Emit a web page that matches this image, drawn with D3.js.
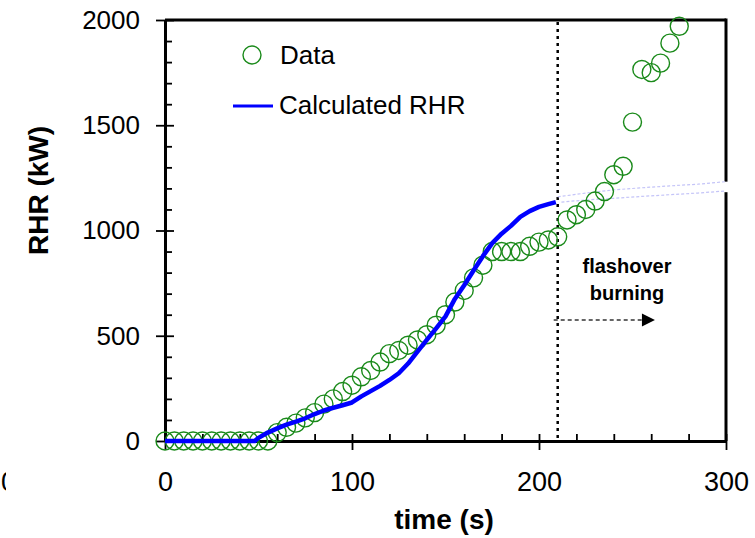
<!DOCTYPE html>
<html>
<head>
<meta charset="utf-8">
<script src="https://cdn.jsdelivr.net/npm/d3@7"></script>
<style>
  html, body { margin: 0; padding: 0; background: #fff; }
  svg { display: block; font-family: "Liberation Sans", Arial, sans-serif; }
</style>
</head>
<body>
<svg id="chart" width="755" height="538"></svg>
<script>
// ---------- data ----------
const dataTime = [0,5,10,15,20,25,30,35,40,45,50,55,60,65,70,75,80,85,90,95,100,105,110,115,120,125,130,135,140,145,150,155,160,165,170,175,180,185,190,195,200,205,210,215,220,225,230,235,240,245,250,255,260,265,270,275];
const dataRHR  = [0,0,0,0,0,0,0,0,0,0,0,0,40,65,85,110,135,175,200,235,265,305,335,375,415,430,455,480,505,550,600,660,715,775,835,900,900,900,900,925,945,955,970,1050,1075,1100,1140,1185,1265,1305,1515,1765,1750,1795,1890,1970];

const calcTime = [0,5,10,15,20,25,30,35,40,45,48,50,55,60,65,70,75,80,85,90,95,100,105,110,115,120,125,130,135,140,145,150,155,160,165,170,175,180,185,190,195,200,205,209];
const calcRHR  = [0,0,0,0,0,0,0,0,0,0,0,15,40,60,78,92,108,128,145,158,170,183,212,237,262,290,322,368,425,480,535,592,675,740,810,878,940,985,1022,1065,1092,1112,1125,1135];

const faintTimeUpper = [210,225,240,255,270,285,300];
const faintRHRUpper  = [1160,1178,1193,1203,1212,1220,1232];
const faintTimeLower = [212,225,240,255,270,285,300];
const faintRHRLower  = [1135,1145,1153,1162,1170,1178,1188];

const xTicks = [0,100,200,300];
const xMinorTicks = [20,40,60,80,120,140,160,180,220,240,260,280];
const yTicks = [0,500,1000,1500,2000];
const yMinorTicks = [100,200,300,400,600,700,800,900,1100,1200,1300,1400,1600,1700,1800,1900];

const flashoverTime = 210;
const arrowEndTime = 262;
const arrowRHR = 575;

// ---------- layout ----------
const svg = d3.select("#chart");
const x = d3.scaleLinear().domain([0,300]).range([165,726]);
const y = d3.scaleLinear().domain([0,2000]).range([441,20]);

const green = "#1a8a1a";
const blue = "#0000ff";
const fmt = d3.format("d");

// stray clipped label at far left
svg.append("clipPath").attr("id","leftclip")
  .append("rect").attr("x",0).attr("y",440).attr("width",6).attr("height",60);
svg.append("text").attr("x",1).attr("y",491).attr("font-size",27)
  .attr("clip-path","url(#leftclip)").text("0");

// ---------- axes ----------
const gy = svg.append("g").attr("transform",`translate(${x(0)},0)`)
  .call(d3.axisLeft(y).tickValues(yTicks).tickFormat(fmt).tickSize(9).tickPadding(16).tickSizeOuter(0));
gy.selectAll("text").attr("font-size",26).attr("fill","#000").attr("font-family","Liberation Sans, Arial, sans-serif");
gy.select(".domain").attr("stroke-width",3);
gy.selectAll(".tick line").attr("stroke-width",1.8);

const gyIn = svg.append("g").attr("transform",`translate(${x(0)},0)`)
  .call(d3.axisRight(y).tickValues(yMinorTicks).tickSize(7).tickFormat("").tickSizeOuter(0));
gyIn.select(".domain").remove();
gyIn.selectAll(".tick line").attr("stroke-width",1.8);
const gyIn2 = svg.append("g").attr("transform",`translate(${x(0)},0)`)
  .call(d3.axisRight(y).tickValues(yTicks).tickSize(9).tickFormat("").tickSizeOuter(0));
gyIn2.select(".domain").remove();
gyIn2.selectAll(".tick line").attr("stroke-width",1.8);

const gx = svg.append("g").attr("transform",`translate(0,${y(0)})`)
  .call(d3.axisBottom(x).tickValues(xTicks).tickFormat(fmt).tickSize(9).tickPadding(22).tickSizeOuter(0));
gx.selectAll("text").attr("font-size",27).attr("fill","#000").attr("font-family","Liberation Sans, Arial, sans-serif");
gx.select(".domain").attr("stroke-width",3);
gx.selectAll(".tick line").attr("stroke-width",1.8);

const gxIn = svg.append("g").attr("transform",`translate(0,${y(0)})`)
  .call(d3.axisTop(x).tickValues(xMinorTicks.concat(xTicks)).tickSize(7).tickFormat("").tickSizeOuter(0));
gxIn.select(".domain").remove();
gxIn.selectAll(".tick line").attr("stroke-width",1.8);

// frame: top and right (right has a small gap where faint line exits)
svg.append("line").attr("x1",x(0)).attr("x2",x(300)).attr("y1",y(2000)).attr("y2",y(2000))
  .attr("stroke","#000").attr("stroke-width",3);
svg.append("line").attr("x1",x(300)).attr("x2",x(300)).attr("y1",y(2000)-1.5).attr("y2",y(1232))
  .attr("stroke","#000").attr("stroke-width",3);
svg.append("line").attr("x1",x(300)).attr("x2",x(300)).attr("y1",y(1182)).attr("y2",y(0))
  .attr("stroke","#000").attr("stroke-width",3);

// axis titles
svg.append("text").attr("transform",`translate(48,${y(1190)}) rotate(-90)`)
  .attr("text-anchor","middle").attr("font-size",28).attr("font-weight","bold").text("RHR (kW)");
svg.append("text").attr("x",444).attr("y",529)
  .attr("text-anchor","middle").attr("font-size",28).attr("font-weight","bold").text("time (s)");

// ---------- flashover marker ----------
svg.append("line").attr("x1",x(flashoverTime)).attr("x2",x(flashoverTime))
  .attr("y1",y(2000)+2).attr("y2",y(0))
  .attr("stroke","#000").attr("stroke-width",2.5).attr("stroke-dasharray","3,4");

svg.append("line").attr("x1",x(flashoverTime)-4).attr("x2",x(arrowEndTime)-12)
  .attr("y1",y(arrowRHR)).attr("y2",y(arrowRHR))
  .attr("stroke","#333").attr("stroke-width",1.6).attr("stroke-dasharray","4,3");
const ax = x(arrowEndTime), ay = y(arrowRHR);
svg.append("path").attr("d",`M${ax},${ay} L${ax-13},${ay-6.5} L${ax-13},${ay+6.5} Z`).attr("fill","#000");

svg.append("text").attr("x",627).attr("y",273).attr("text-anchor","middle")
  .attr("font-size",20).attr("font-weight","bold").text("flashover");
svg.append("text").attr("x",627).attr("y",300).attr("text-anchor","middle")
  .attr("font-size",20).attr("font-weight","bold").text("burning");

// ---------- series ----------
const line = d3.line().x(d => x(d[0])).y(d => y(d[1]));

const faintStyle = (sel) => sel.attr("fill","none").attr("stroke","#c4c4f8")
  .attr("stroke-width",1.2).attr("stroke-dasharray","3,2");
svg.append("path").datum(faintTimeUpper.map((t,i)=>[t,faintRHRUpper[i]])).attr("d",line).call(faintStyle);
svg.append("path").datum(faintTimeLower.map((t,i)=>[t,faintRHRLower[i]])).attr("d",line).call(faintStyle);

svg.append("g").selectAll("circle")
  .data(dataTime.map((t,i)=>[t,dataRHR[i]]))
  .join("circle")
  .attr("cx",d=>x(d[0])).attr("cy",d=>y(d[1])).attr("r",9)
  .attr("fill","none").attr("stroke",green).attr("stroke-width",1.4);

svg.append("path").datum(calcTime.map((t,i)=>[t,calcRHR[i]]))
  .attr("d",line).attr("fill","none").attr("stroke",blue).attr("stroke-width",4.5)
  .attr("stroke-linejoin","round");

// ---------- legend ----------
svg.append("circle").attr("cx",252).attr("cy",55).attr("r",9)
  .attr("fill","none").attr("stroke",green).attr("stroke-width",1.4);
svg.append("text").attr("x",280).attr("y",64).attr("font-size",26).text("Data");
svg.append("line").attr("x1",233).attr("x2",273).attr("y1",106).attr("y2",106)
  .attr("stroke",blue).attr("stroke-width",3);
svg.append("text").attr("x",279).attr("y",114).attr("font-size",26).text("Calculated RHR");
</script>
</body>
</html>
